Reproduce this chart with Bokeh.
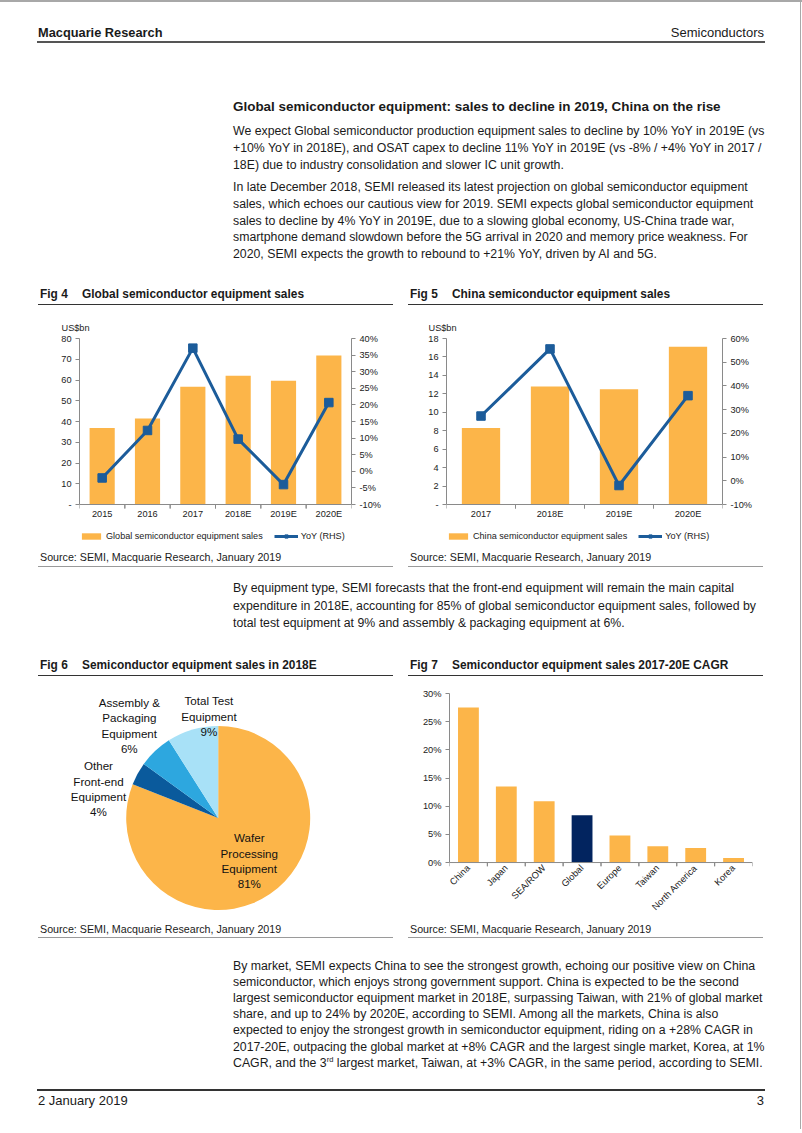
import html
from math import pi
from bokeh.plotting import figure
from bokeh.models import (Div, Spacer, Range1d, LinearAxis, FixedTicker, PrintfTickFormatter,
                          Legend, LegendItem, FactorRange, ColumnDataSource, Span)
from bokeh.transform import dodge
from bokeh.layouts import column, row
from bokeh.embed import file_html
from bokeh.resources import INLINE
from bokeh.core.properties import value

# ---------------- data ----------------
fig4_years = ["2015", "2016", "2017", "2018E", "2019E", "2020E"]
fig4_sales = [36.9, 41.4, 56.7, 62.0, 59.6, 71.8]          # US$bn
fig4_yoy = [-2.0, 12.3, 37.1, 9.7, -4.0, 20.7]              # %
fig4_left_ticks = [0, 10, 20, 30, 40, 50, 60, 70, 80]
fig4_right_ticks = [-10, -5, 0, 5, 10, 15, 20, 25, 30, 35, 40]

fig5_years = ["2017", "2018E", "2019E", "2020E"]
fig5_sales = [8.3, 12.8, 12.5, 17.1]                        # US$bn
fig5_yoy = [27.3, 55.6, -2.0, 35.9]                         # %
fig5_left_ticks = [0, 2, 4, 6, 8, 10, 12, 14, 16, 18]
fig5_right_ticks = [-10, 0, 10, 20, 30, 40, 50, 60]

fig6_segments = ["Wafer\nProcessing\nEquipment", "Other\nFront-end\nEquipment",
                 "Assembly &\nPackaging\nEquipment", "Total Test\nEquipment"]
fig6_shares = [81, 4, 6, 9]                                 # %

fig7_markets = ["China", "Japan", "SEA/ROW", "Global", "Europe", "Taiwan", "North America", "Korea"]
fig7_cagr = [27.5, 13.5, 10.9, 8.4, 4.8, 2.9, 2.6, 0.8]    # %
fig7_ticks = [0, 5, 10, 15, 20, 25, 30]

# ---------------- style ----------------
FONT = "Liberation Sans"
ORANGE = "#FCB549"
BLUE = "#1C5C9A"
NAVY = "#02245F"
PIE_COLORS = [ORANGE, "#0A5A9C", "#2DA7DF", "#A8E1F7"]
TXT = "#1a1a1a"
AX = "#8a8a8a"
EDGE = "#a8a8a8"
W = 802
BODY = 12.3
LS = 16.8
TICK_PX = 4


def txt(s, x, yc, size, bold=False, align="left", raw=False):
    h = round(size * 1.4)
    top = yc - h / 2
    pos = f"left:{x}px;" if align == "left" else f"right:{W - x}px;"
    body = s if raw else html.escape(s)
    return (f'<div style="position:absolute;{pos}top:{top:.1f}px;height:{h}px;line-height:{h}px;'
            f'white-space:nowrap;font-family:\'{FONT}\';font-size:{size}px;'
            f'font-weight:{"bold" if bold else "normal"};color:{TXT};">{body}</div>')


def hline(x0, x1, y, th, color):
    return (f'<div style="position:absolute;left:{x0}px;top:{y:.1f}px;width:{x1 - x0}px;'
            f'height:{th}px;background:{color};"></div>')


def page_block(items, top_page, height):
    parts = []
    for it in items:
        if it[0] == "t":
            _, s, x, y, size, bold, align, raw = it
            parts.append(txt(s, x, y - top_page, size, bold, align, raw=raw))
        else:
            _, x0, x1, y, th, color = it
            parts.append(hline(x0, x1, y - top_page, th, color))
    parts.append(f'<div style="position:absolute;left:800px;top:0px;width:1px;height:{height}px;background:{EDGE};"></div>')
    return Div(text=f'<div style="position:relative;width:{W}px;height:{height}px;overflow:hidden">'
                    + "".join(parts) + '</div>', width=W, height=height, margin=0)


def panel_block(items, left_page, top_page, width, height):
    parts = []
    for it in items:
        if it[0] == "t":
            _, s, x, y, size, bold = it
            h = round(size * 1.4)
            parts.append(f'<div style="position:absolute;left:{x - left_page}px;top:{y - top_page - h/2:.1f}px;'
                         f'height:{h}px;line-height:{h}px;white-space:nowrap;font-family:\'{FONT}\';'
                         f'font-size:{size}px;font-weight:{"bold" if bold else "normal"};color:{TXT};">{s}</div>')
        else:
            _, y, th, color = it
            parts.append(f'<div style="position:absolute;left:0px;top:{y - top_page:.1f}px;width:{width}px;'
                         f'height:{th}px;background:{color};"></div>')
    return Div(text=f'<div style="position:relative;width:{width}px;height:{height}px;overflow:hidden">'
                    + "".join(parts) + '</div>', width=width, height=height, margin=0)


def edge_div(height):
    return Div(text=f'<div style="width:1px;height:{height}px;background:{EDGE};"></div>',
               width=1, height=height, margin=0)


# ---------------- top text block (page y 0..282) ----------------
top_items = [
    ("l", 0, 802, 0, 1.5, EDGE),
    ("t", "Macquarie Research", 38, 33, 12.8, True, "left", False),
    ("t", "Semiconductors", 764, 33, 13, False, "right", False),
    ("l", 37, 765, 41, 2, "#555555"),
    ("t", "Global semiconductor equipment: sales to decline in 2019, China on the rise", 233, 106.5, 13.45, True, "left", False),
]
para1 = ["We expect Global semiconductor production equipment sales to decline by 10% YoY in 2019E (vs",
         "+10% YoY in 2018E), and OSAT capex to decline 11% YoY in 2019E (vs -8% / +4% YoY in 2017 /",
         "18E) due to industry consolidation and slower IC unit growth."]
para2 = ["In late December 2018, SEMI released its latest projection on global semiconductor equipment",
         "sales, which echoes our cautious view for 2019. SEMI expects global semiconductor equipment",
         "sales to decline by 4% YoY in 2019E, due to a slowing global economy, US-China trade war,",
         "smartphone demand slowdown before the 5G arrival in 2020 and memory price weakness. For",
         "2020, SEMI expects the growth to rebound to +21% YoY, driven by AI and 5G."]
for i, s in enumerate(para1):
    top_items.append(("t", s, 233, 131.5 + i * LS, BODY, False, "left", False))
for i, s in enumerate(para2):
    top_items.append(("t", s, 233, 187.5 + i * LS, BODY, False, "left", False))
top_div = page_block(top_items, 0, 282)

# ---------------- middle text (page 572..650) ----------------
mid_lines = ["By equipment type, SEMI forecasts that the front-end equipment will remain the main capital",
             "expenditure in 2018E, accounting for 85% of global semiconductor equipment sales, followed by",
             "total test equipment at 9% and assembly &amp; packaging equipment at 6%."]
mid_items = [("t", s, 233, 588.5 + i * 17.5, BODY, False, "left", True) for i, s in enumerate(mid_lines)]
mid_div = page_block(mid_items, 572, 78)

# ---------------- bottom text (page 944..1129) ----------------
bot_lines = ["By market, SEMI expects China to see the strongest growth, echoing our positive view on China",
             "semiconductor, which enjoys strong government support. China is expected to be the second",
             "largest semiconductor equipment market in 2018E, surpassing Taiwan, with 21% of global market",
             "share, and up to 24% by 2020E, according to SEMI. Among all the markets, China is also",
             "expected to enjoy the strongest growth in semiconductor equipment, riding on a +28% CAGR in",
             "2017-20E, outpacing the global market at +8% CAGR and the largest single market, Korea, at 1%",
             'CAGR, and the 3<sup style="font-size:7.5px;vertical-align:5px;line-height:0">rd</sup> largest market, Taiwan, at +3% CAGR, in the same period, according to SEMI.']
bot_items = [("t", s, 233, 966 + i * 16.2, BODY, False, "left", True) for i, s in enumerate(bot_lines)]
bot_items += [("l", 37, 765, 1089, 1.5, "#333333"),
              ("t", "2 January 2019", 38, 1101, 13, False, "left", False),
              ("t", "3", 764, 1101, 13, False, "right", False)]
bot_div = page_block(bot_items, 944, 185)


# ---------------- chart helpers ----------------
def style_axis(ax, size="9.2px", tick_out=4):
    ax.axis_line_color = AX
    ax.major_tick_line_color = AX if tick_out else None
    ax.major_tick_out = tick_out
    ax.major_tick_in = 0
    ax.minor_tick_line_color = None
    ax.major_label_text_font = FONT
    ax.major_label_text_font_size = size
    ax.major_label_text_color = "#222222"
    ax.major_label_standoff = 4


def fig_title(num, name, left, top, h, ty, ly):
    return panel_block([("t", f"Fig {num}", left + 2, ty, 11.9, True),
                        ("t", name, left + 44, ty, 11.9, True),
                        ("l", ly, 1.5, "#333333")], left, top, 355, h)


def source_div(left, top, h, ty, ly):
    return panel_block([("t", "Source: SEMI, Macquarie Research, January 2019", left + 2, ty, 10.7, False),
                        ("l", ly, 1, "#9a9a9a")], left, top, 355, h)


def category_edge_ticks(p, src, tick_len):
    # short ticks on the category boundaries, below the zero line
    for side in (-0.5, 0.5):
        p.segment(x0=dodge("x", side, range=p.x_range), y0=0,
                  x1=dodge("x", side, range=p.x_range), y1=-tick_len,
                  source=src, line_color=AX, line_width=1)


# frame geometry (px): data area 166 px tall, extra band of 44 px below the zero line
# that holds the category labels and the legend inside the plot frame
DATA_H = 166
BAND = 44


def bar_line_fig(cats, sales, yoy, lticks, rticks, lmax, rlim, leg_label, mb_left, frame_w):
    lmin = -BAND / DATA_H * lmax
    rspan = rlim[1] - rlim[0]
    rmin = rlim[0] - BAND / DATA_H * rspan
    p = figure(x_range=FactorRange(*cats), y_range=Range1d(lmin, lmax), width=355, height=240,
               output_backend="svg", toolbar_location=None, x_axis_location=None,
               min_border_left=mb_left, min_border_right=355 - mb_left - frame_w,
               min_border_top=30, min_border_bottom=0, margin=0)
    p.outline_line_color = None
    p.grid.visible = False
    p.title.text = "US$bn"
    p.title.align = "left"
    p.title.offset = -18
    p.title.standoff = 12
    p.title.text_font = FONT
    p.title.text_font_size = "9.2px"
    p.title.text_font_style = "normal"
    p.title.text_color = "#222222"
    p.extra_y_ranges = {"yoy": Range1d(rmin, rlim[1])}
    src = ColumnDataSource(dict(x=cats, sales=sales, yoy=yoy, base=[0] * len(cats)))
    bars = p.vbar(x="x", top="sales", width=0.555, source=src, fill_color=ORANGE, line_color=None)
    # category axis: zero line, boundary ticks and labels under it
    p.add_layout(Span(location=0, dimension="width", line_color=AX, line_width=1))
    category_edge_ticks(p, src, TICK_PX / DATA_H * lmax)
    p.text(x="x", y="base", text="x", source=src, y_offset=9.5, text_align="center",
           text_baseline="middle", text_font=value(FONT), text_font_size="9.2px", text_color="#222222")
    ln = p.line(x="x", y="yoy", source=src, y_range_name="yoy", line_color=BLUE, line_width=3)
    sc = p.scatter(x="x", y="yoy", source=src, y_range_name="yoy", marker="square", size=8.5,
                   fill_color=BLUE, line_color=BLUE)
    p.yaxis.ticker = FixedTicker(ticks=lticks)
    p.yaxis.major_label_overrides = {0: "-"}
    p.yaxis.bounds = (0, lmax)
    style_axis(p.yaxis[0])
    ra = LinearAxis(y_range_name="yoy", ticker=FixedTicker(ticks=rticks), bounds=rlim,
                    formatter=PrintfTickFormatter(format="%d%%"))
    style_axis(ra)
    p.add_layout(ra, "right")
    items = [LegendItem(label=leg_label, renderers=[bars]),
             LegendItem(label="YoY (RHS)", renderers=[ln, sc])]
    leg = Legend(items=items, orientation="horizontal", location=(0, 7))
    leg.label_text_font = FONT
    leg.label_text_font_size = "9.1px"
    leg.label_text_color = "#222222"
    leg.glyph_width = 24
    leg.glyph_height = 8
    leg.label_height = 11
    leg.label_standoff = 3
    leg.spacing = 11
    leg.padding = 1
    leg.margin = 0
    leg.border_line_color = None
    leg.background_fill_alpha = 0
    p.add_layout(leg, "center")
    return p


# ---------------- Fig 4 / Fig 5 ----------------
p4 = bar_line_fig(fig4_years, fig4_sales, fig4_yoy, fig4_left_ticks, fig4_right_ticks, 80, (-10, 40),
                  "Global semiconductor equipment sales", 41, 272)
p5 = bar_line_fig(fig5_years, fig5_sales, fig5_yoy, fig5_left_ticks, fig5_right_ticks, 18, (-10, 60),
                  "China semiconductor equipment sales", 38, 276)

panel4 = column(fig_title(4, "Global semiconductor equipment sales", 38, 282, 26, 294, 303.5), p4,
                source_div(38, 548, 24, 557.7, 566), spacing=0, margin=0)
panel5 = column(fig_title(5, "China semiconductor equipment sales", 408, 282, 26, 294, 303.5), p5,
                source_div(408, 548, 24, 557.7, 566), spacing=0, margin=0)
row1 = row(Spacer(width=38, height=290, margin=0), panel4, Spacer(width=15, height=290, margin=0), panel5,
           Spacer(width=37, height=290, margin=0), edge_div(290), spacing=0, margin=0)

# ---------------- Fig 6 (pie) ----------------
p6 = figure(width=355, height=241, x_range=Range1d(0, 355), y_range=Range1d(0, 241),
            output_backend="svg", toolbar_location=None, x_axis_type=None, y_axis_type=None,
            min_border=0, margin=0)
p6.outline_line_color = None
p6.grid.visible = False
total = sum(fig6_shares)
cum = [0]
for s in fig6_shares:
    cum.append(cum[-1] + s)
starts = [pi / 2 - 2 * pi * c / total for c in cum[:-1]]
ends = [pi / 2 - 2 * pi * c / total for c in cum[1:]]
pie_src = ColumnDataSource(dict(start=starts, end=ends, color=PIE_COLORS,
                                label=[f"{n}\n{s}%" for n, s in zip(fig6_segments, fig6_shares)],
                                lx=[210.8, 60, 90.8, 170.5], ly=[57.7, 129.7, 193, 202.2]))
p6.wedge(x=179.7, y=100.5, radius=92, start_angle="start", end_angle="end", direction="clock",
         fill_color="color", line_color=None, source=pie_src)
p6.text(x="lx", y="ly", text="label", source=pie_src, text_align="center", text_baseline="middle",
        text_font=value(FONT), text_font_size="11.6px", text_color="#111111", text_line_height=1.18)

# ---------------- Fig 7 ----------------
F7_DATA_H = 171
f7_tick = TICK_PX / F7_DATA_H * fig7_ticks[-1]
p7 = figure(x_range=FactorRange(*fig7_markets), y_range=Range1d(-f7_tick, fig7_ticks[-1]), width=355, height=241,
            output_backend="svg", toolbar_location=None, min_border_left=41, min_border_right=11,
            min_border_top=16, min_border_bottom=50, margin=0)
p7.outline_line_color = None
p7.grid.visible = False
f7_src = ColumnDataSource(dict(x=fig7_markets, cagr=fig7_cagr,
                               color=[NAVY if m == "Global" else ORANGE for m in fig7_markets]))
p7.vbar(x="x", top="cagr", width=0.55, fill_color="color", line_color=None, source=f7_src)
p7.add_layout(Span(location=0, dimension="width", line_color=AX, line_width=1))
category_edge_ticks(p7, f7_src, f7_tick)
p7.yaxis.ticker = FixedTicker(ticks=fig7_ticks)
p7.yaxis.formatter = PrintfTickFormatter(format="%d%%")
p7.yaxis.bounds = (0, fig7_ticks[-1])
style_axis(p7.yaxis[0], size="9.3px")
style_axis(p7.xaxis[0], size="9.3px", tick_out=0)
p7.xaxis.axis_line_color = None
p7.xaxis.major_tick_line_color = None
p7.xaxis.major_label_orientation = pi / 4
p7.xaxis.major_label_standoff = 0

panel6 = column(fig_title(6, "Semiconductor equipment sales in 2018E", 38, 650, 27, 665.7, 674.5), p6,
                source_div(38, 918, 26, 929.2, 936.5), spacing=0, margin=0)
panel7 = column(fig_title(7, "Semiconductor equipment sales 2017-20E CAGR", 408, 650, 27, 665.7, 674.5), p7,
                source_div(408, 918, 26, 929.2, 936.5), spacing=0, margin=0)
row2 = row(Spacer(width=38, height=294, margin=0), panel6, Spacer(width=15, height=294, margin=0), panel7,
           Spacer(width=37, height=294, margin=0), edge_div(294), spacing=0, margin=0)

root = column(top_div, row1, mid_div, row2, bot_div, spacing=0, margin=0)

with open("out.html", "w") as f:
    f.write(file_html(root, INLINE, title="Macquarie Research - Semiconductors"))
